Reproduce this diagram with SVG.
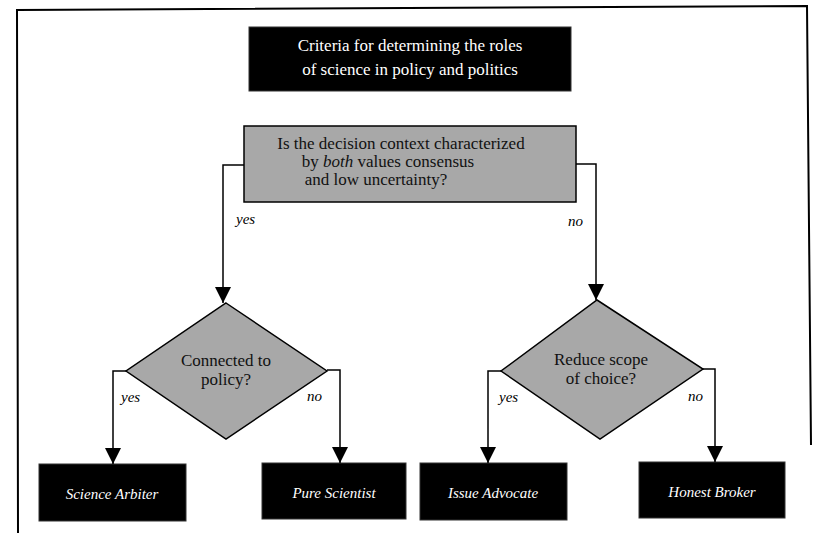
<svg xmlns="http://www.w3.org/2000/svg" width="813" height="533" viewBox="0 0 813 533">
<defs>
<marker id="arr" markerUnits="userSpaceOnUse" markerWidth="16" markerHeight="16" refX="16" refY="8" orient="auto">
<path d="M0,0 L16,8 L0,16 z" fill="#000"/>
</marker>
</defs>
<style>
text{font-family:'Liberation Serif','Times New Roman',Times,serif;}
.w{fill:#fff;}
.blk{fill:#000;stroke:#333;stroke-width:1;}
.gry{fill:#a8a8a8;stroke:#000;stroke-width:1.5;}
.conn{fill:none;stroke:#000;stroke-width:1.5;marker-end:url(#arr);}
.lab{font-style:italic;font-size:15px;fill:#000;}
.role{font-style:italic;font-size:15px;fill:#fff;text-anchor:middle;}
.q{font-size:17px;text-anchor:middle;fill:#111;}
.h{font-size:17px;text-anchor:middle;fill:#fff;}
</style>
<rect width="813" height="533" fill="#fff"/>
<g id="frame" fill="none" stroke="#000" stroke-width="2">
<path d="M18,533 L17,10 L807,6 L811,445"/>
</g>
<g id="title">
<rect class="blk" x="249" y="27" width="322" height="64"/>
<text class="h" x="410" y="51">Criteria for determining the roles</text>
<text class="h" x="410" y="75">of science in policy and politics</text>
</g>
<g id="q1">
<rect class="gry" x="244" y="126" width="332" height="76"/>
<text class="q" x="401" y="149">Is the decision context characterized</text>
<text class="q" x="388" y="167">by <tspan font-style="italic">both</tspan> values consensus</text>
<text class="q" x="376" y="185">and low uncertainty?</text>
</g>
<g id="q2">
<polygon class="gry" points="226,303 327,371 226,439 126,371"/>
<text class="q" x="226" y="366">Connected to</text>
<text class="q" x="226" y="385">policy?</text>
</g>
<g id="q3">
<polygon class="gry" points="597,300 703,369 600,439 501,371"/>
<text class="q" x="601" y="365">Reduce scope</text>
<text class="q" x="601" y="384">of choice?</text>
</g>
<g id="arbiter">
<rect class="blk" x="39" y="464" width="147" height="57"/>
<text class="role" x="112" y="499">Science Arbiter</text>
</g>
<g id="pure">
<rect class="blk" x="262" y="463" width="144" height="56"/>
<text class="role" x="334" y="498">Pure Scientist</text>
</g>
<g id="advocate">
<rect class="blk" x="420" y="463" width="147" height="57"/>
<text class="role" x="493" y="498">Issue Advocate</text>
</g>
<g id="broker">
<rect class="blk" x="639" y="462" width="146" height="56"/>
<text class="role" x="712" y="497">Honest Broker</text>
</g>
<g id="connectors">
<path class="conn" d="M244,165 H223 V303"/>
<path class="conn" d="M576,164 H596 V300"/>
<path class="conn" d="M126,371 H113 V464"/>
<path class="conn" d="M327,370 H340 V463"/>
<path class="conn" d="M501,371 H488 V463"/>
<path class="conn" d="M703,369 H715 V462"/>
<text class="lab" x="236" y="224">yes</text>
<text class="lab" x="568" y="226">no</text>
<text class="lab" x="121" y="402">yes</text>
<text class="lab" x="307" y="401">no</text>
<text class="lab" x="499" y="402">yes</text>
<text class="lab" x="688" y="401">no</text>
</g>
</svg>
